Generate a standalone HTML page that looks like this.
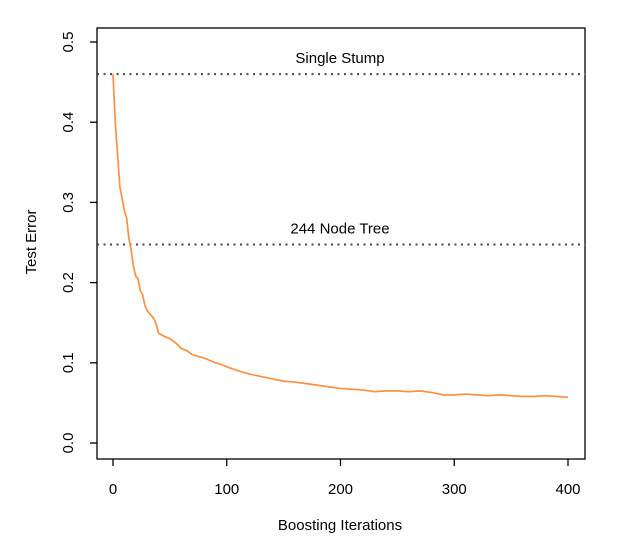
<!DOCTYPE html>
<html><head><meta charset="utf-8"><style>
body{margin:0;background:#fff}
svg text{font-family:"Liberation Sans",Arial,sans-serif;font-size:15px;fill:#000}
</style></head><body>
<svg width="628" height="545" id="c"></svg>
<script>
const iters=[0,2,4,6,8,10,12,14,16,18,20,22,24,26,28,30,33,36,38,40,45,50,55,60,65,70,75,80,85,90,95,100,110,120,130,140,150,160,170,180,190,200,210,220,230,240,250,260,270,280,290,300,310,320,330,340,350,360,370,380,390,400];
const errs=[0.46,0.40,0.36,0.32,0.305,0.29,0.28,0.255,0.24,0.22,0.208,0.205,0.19,0.185,0.172,0.165,0.16,0.155,0.148,0.137,0.133,0.13,0.125,0.118,0.115,0.11,0.108,0.106,0.103,0.1,0.098,0.095,0.09,0.086,0.083,0.08,0.077,0.076,0.074,0.072,0.07,0.068,0.067,0.066,0.064,0.065,0.065,0.064,0.065,0.063,0.06,0.06,0.061,0.06,0.059,0.06,0.059,0.058,0.058,0.059,0.058,0.057];
const xTicks=[0,100,200,300,400];
const yTicks=[0.0,0.1,0.2,0.3,0.4,0.5];
const refVals=[0.46,0.2475];
const refLabels=["Single Stump","244 Node Tree"];
const NS="http://www.w3.org/2000/svg",svg=document.getElementById('c');
const X=v=>113+v*(455/400), Y=v=>443-v*802;
function mk(t,a){const e=document.createElementNS(NS,t);for(const k in a)e.setAttribute(k,a[k]);svg.appendChild(e);return e;}
let e=mk('rect',{x:97,y:28,width:488,height:431,fill:'none',stroke:'#000','stroke-width':1.3});

xTicks.forEach(v=>{let l=mk('line',{x1:X(v),x2:X(v),y1:459,y2:466,stroke:'#000','stroke-width':1.3});

let t=mk('text',{x:X(v),y:494,'text-anchor':'middle'});t.textContent=v;
});
yTicks.forEach(v=>{let l=mk('line',{x1:90,x2:97,y1:Y(v),y2:Y(v),stroke:'#000','stroke-width':1.3});

let t=mk('text',{x:73,y:Y(v),'text-anchor':'middle',transform:`rotate(-90 73 ${Y(v)})`});t.textContent=v.toFixed(1);
});
refVals.forEach((v,i)=>{let l=mk('line',{x1:97,x2:585,y1:Y(v),y2:Y(v),stroke:'#444','stroke-width':2,'stroke-dasharray':'2 4.5'});

let t=mk('text',{x:340,y:Y(v)-11,'text-anchor':'middle'});t.textContent=refLabels[i];
});
let p=mk('polyline',{points:iters.map((v,i)=>X(v)+','+Y(errs[i])).join(' '),fill:'none',stroke:'#ff9040','stroke-width':1.7});

let xt=mk('text',{x:340,y:530,'text-anchor':'middle'});xt.textContent='Boosting Iterations';

let yt=mk('text',{x:36,y:242,'text-anchor':'middle',transform:'rotate(-90 36 242)'});yt.textContent='Test Error';

</script>
</body></html>
